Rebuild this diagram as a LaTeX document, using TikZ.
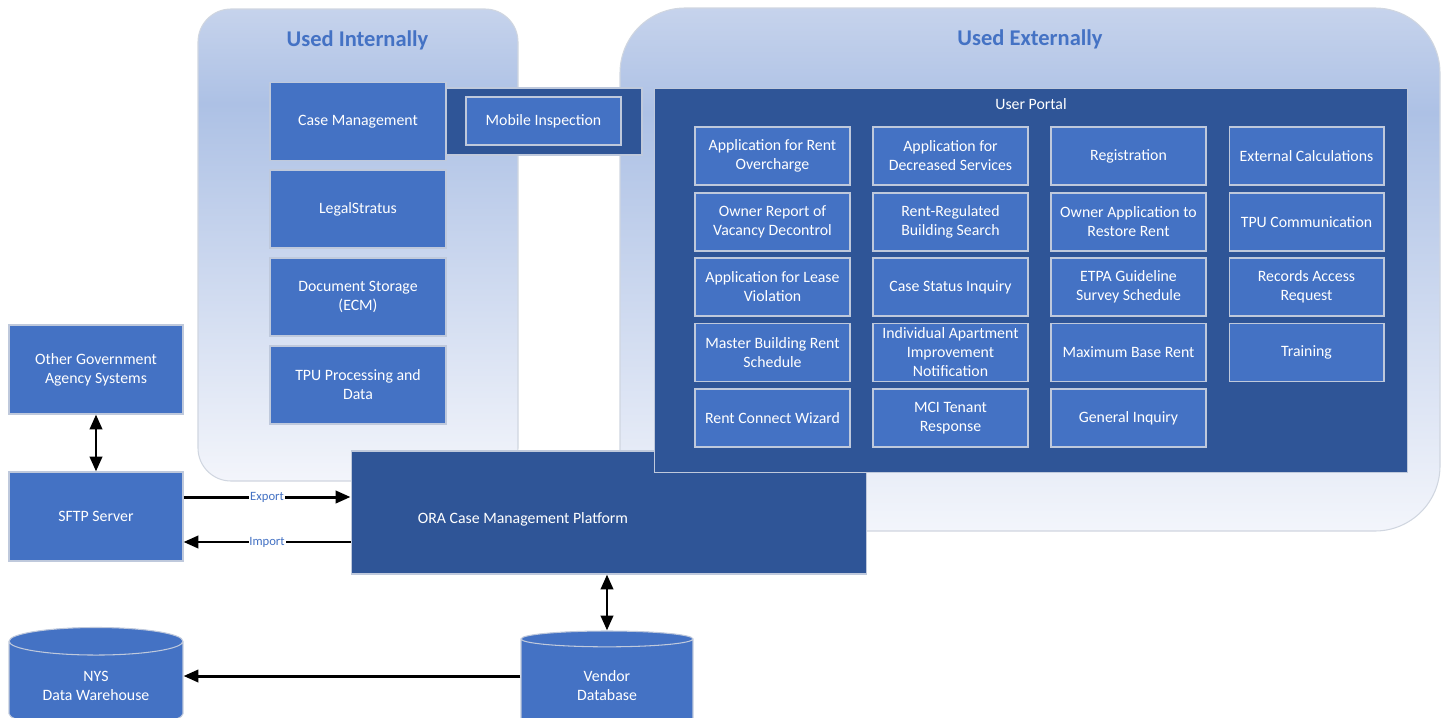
\documentclass[tikz,border=0pt]{standalone}
\usepackage{fontspec}
\setmainfont{Carlito}
\usetikzlibrary{shapes.geometric, arrows.meta, positioning, calc}
\definecolor{boxblue}{HTML}{4472C4}
\definecolor{darkblue}{HTML}{2F5597}
\definecolor{edgegray}{HTML}{BFC9DC}
\definecolor{panelline}{HTML}{D0D6E0}
\definecolor{paneltop}{HTML}{C6D3EC}
\definecolor{panelmid}{HTML}{ADC1E5}
\definecolor{panellow}{HTML}{F3F5FB}
\pgfdeclareverticalshading{panelfade}{100bp}{color(0bp)=(panellow); color(25bp)=(panellow); color(47bp)=(panelmid!55!panellow); color(65bp)=(panelmid); color(75bp)=(paneltop); color(100bp)=(paneltop)}
\tikzset{
  panel/.style={draw=panelline, line width=0.6pt, shading=panelfade},
  paneltitle/.style={font=\fontsize{12.8}{15}\selectfont\bfseries, text=boxblue},
  sysbox/.style={draw=edgegray, line width=0.6pt, fill=boxblue, text=white, align=center, inner sep=1pt, font=\fontsize{9}{10.8}\selectfont},
  intbox/.style={sysbox, minimum width=3.52cm, minimum height=1.56cm},
  outbox/.style={sysbox, minimum width=3.48cm, minimum height=1.78cm},
  cellbox/.style={sysbox, minimum width=3.1cm, minimum height=1.16cm},
  platform/.style={draw=edgegray, line width=0.6pt, fill=darkblue, text=white, font=\fontsize{9}{10.8}\selectfont},
  store/.style={sysbox, cylinder, shape border rotate=90, aspect=0.25, minimum height=2.0cm},
  flow/.style={line width=1.7pt, -{Triangle[length=8.5pt, width=7pt]}},
  twoway/.style={line width=1.7pt, {Triangle[length=8.5pt, width=7pt]}-{Triangle[length=8.5pt, width=7pt]}},
  flowlabel/.style={fill=white, inner sep=0.5pt, text=boxblue, font=\fontsize{7.2}{8}\selectfont}
}
\begin{document}
\begin{tikzpicture}[x=0.02cm, y=-0.02cm]
  \useasboundingbox (0,0) rectangle (1444,717);

  % Panels
  \path[panel, rounded corners=0.66cm] (198,9) rectangle (518,481);
  \path[panel, rounded corners=1.3cm] (620,8) rectangle (1440,531);
  \node[paneltitle] (inttitle) at (357.5,40) {Used Internally};
  \node[paneltitle] (exttitle) at (1030,39) {Used Externally};

  % Internal systems
  \node[intbox] (casemgmt) at (358,121.5) {Case Management};
  \node[intbox] (legal) at (358,209) {LegalStratus};
  \node[intbox] (docstore) at (358,297) {Document Storage\\(ECM)};
  \node[intbox] (tpuproc) at (358,385) {TPU Processing and\\Data};
  \node[platform, minimum width=3.92cm, minimum height=1.34cm] (mobileback) at (544,121.5) {};
  \node[sysbox, minimum width=3.1cm, minimum height=0.96cm] (mobile) at (543.5,121) {Mobile Inspection};

  % Platform
  \node[platform, minimum width=10.32cm, minimum height=2.46cm] (ora) at (609,512.5) {};
  \node[text=white, font=\fontsize{9}{10.8}\selectfont] (oratext) at (523,519) {ORA Case Management Platform};

  % User portal
  \node[platform, minimum width=15.06cm, minimum height=7.7cm] (portal) at (1031,280.5) {};
  \node[text=white, font=\fontsize{9}{10.8}\selectfont] (portaltitle) at (1031,104) {User Portal};
  \node[cellbox] (overcharge) at (772.5,156) {Application for Rent\\Overcharge};
  \node[cellbox] (decreased) at (950.5,156) {Application for\\Decreased Services};
  \node[cellbox] (registration) at (1128.5,156) {Registration};
  \node[cellbox] (extcalc) at (1306.5,156) {External Calculations};
  \node[cellbox] (vacancy) at (772.5,222) {Owner Report of\\Vacancy Decontrol};
  \node[cellbox] (bldgsearch) at (950.5,222) {Rent-Regulated\\Building Search};
  \node[cellbox] (restore) at (1128.5,222) {Owner Application to\\Restore Rent};
  \node[cellbox] (tpucomm) at (1306.5,222) {TPU Communication};
  \node[cellbox] (lease) at (772.5,287) {Application for Lease\\Violation};
  \node[cellbox] (status) at (950.5,287) {Case Status Inquiry};
  \node[cellbox] (etpa) at (1128.5,287) {ETPA Guideline\\Survey Schedule};
  \node[cellbox] (records) at (1306.5,287) {Records Access\\Request};
  \node[cellbox] (masterrent) at (772.5,352.5) {Master Building Rent\\Schedule};
  \node[cellbox] (improvement) at (950.5,352.5) {Individual Apartment\\Improvement\\Notification};
  \node[cellbox] (maxbase) at (1128.5,352.5) {Maximum Base Rent};
  \node[cellbox] (training) at (1306.5,352.5) {Training};
  \node[cellbox] (wizard) at (772.5,418) {Rent Connect Wizard};
  \node[cellbox] (mci) at (950.5,418) {MCI Tenant\\Response};
  \node[cellbox] (inquiry) at (1128.5,418) {General Inquiry};

  % Outside systems
  \node[outbox] (govsys) at (96,369.5) {Other Government\\Agency Systems};
  \node[outbox] (sftp) at (96,516.5) {SFTP Server};
  \node[store, minimum width=3.48cm] (warehouse) at (96,686) {NYS\\Data Warehouse};
  \node[store, minimum width=3.44cm] (vendor) at (607,686) {Vendor\\Database};

  % Connectors
  \draw[twoway] (govsys) -- (sftp);
  \draw[flow] ([yshift=0.39cm]sftp.east) -- ([yshift=0.39cm]sftp.east -| ora.west) node[midway, flowlabel] {Export};
  \draw[flow] ([yshift=-0.51cm]sftp.east -| ora.west) -- ([yshift=-0.51cm]sftp.east) node[midway, flowlabel] {Import};
  \draw[twoway] (vendor.north |- ora.south) -- (vendor.north);
  \draw[flow] ([yshift=0.2cm]vendor.west) -- ([yshift=0.2cm]vendor.west -| warehouse.east);
\end{tikzpicture}
\end{document}
